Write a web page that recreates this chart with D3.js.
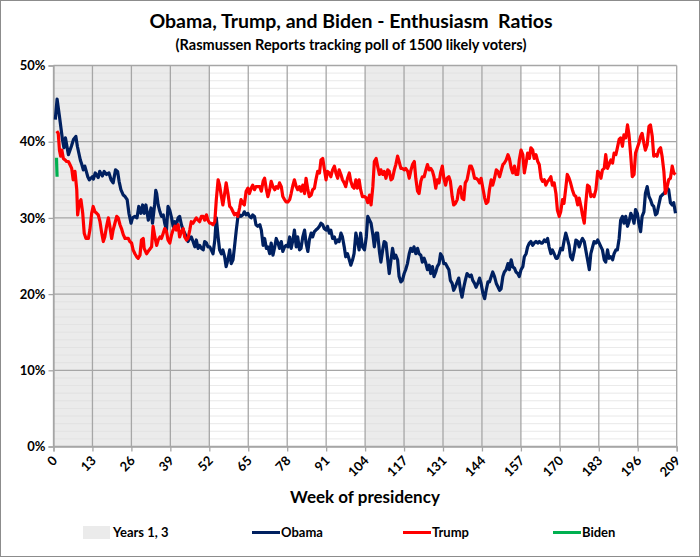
<!DOCTYPE html>
<html><head><meta charset="utf-8">
<script src="https://cdn.jsdelivr.net/npm/d3@7"></script>
<style>body{margin:0;background:#fff}svg{display:block}text{font-family:Lato,"Open Sans",sans-serif;font-weight:bold;fill:#000}</style>
</head><body><svg id="c" width="700" height="557"></svg>
<script>
const titleText = "Obama, Trump, and Biden - Enthusiasm  Ratios";
const subtitleText = "(Rasmussen Reports tracking poll of 1500 likely voters)";
const xTitle = "Week of presidency";
const weekTickLabels = ["0","13","26","39","52","65","78","91","104","117","131","144","157","170","183","196","209"];
const yTickValues = [0,10,20,30,40,50];
const shadedYears = [[0,52.25],[104.5,156.75]];
const seriesNames = ["Obama","Trump","Biden"];
const seriesColors = ["#002060","#ff0000","#00b050"];

const obamaData = [[0.6,42.9],[1.2,45.6],[2,43.3],[3,40.3],[3.5,39.2],[4,40.5],[5,38.3],[6,39.4],[6.7,40.3],[7.5,40.7],[8,39.4],[9,37.6],[9.5,37],[10,36.3],[10.5,36.8],[11,36.1],[11.5,35.4],[12,35],[13,35.4],[13.4,35.1],[14,35.9],[15,35.3],[15.5,36.1],[16.4,35.5],[17,36.1],[17.8,35.7],[18.6,35.9],[19.3,35],[20,34.6],[20.8,36.3],[21.5,36.1],[22,34.8],[22.6,33.7],[23.4,33],[24,32.8],[24.7,32.4],[25.3,30.6],[26,29.3],[26.5,30],[27.3,30.2],[28,30],[28.6,31.5],[29.3,30.6],[29.9,31.7],[30.4,30.6],[31,31.7],[31.8,29.7],[32.7,31.3],[33.2,29.3],[33.9,31.7],[34.3,33.6],
[34.6,33.2],[35.1,31.7],[35.7,30.8],[36.2,30.2],[36.8,30.4],[37.3,29.3],[37.9,28.4],[38.4,31.5],[39,31],[39.6,30],[40.1,28.9],[40.7,29.5],[41.2,29.1],[41.8,30],[42.3,30.2],[42.9,29.1],[43.5,28.4],[44,28],[44.6,27.5],[45.1,26.9],[45.7,27.3],[46.2,27.5],[46.8,26.9],[47.4,26.2],[47.9,27.1],[48.5,26],[49,26.4],[49.6,26],[50.2,25.8],[50.7,26.9],[51.3,26.7],[51.8,26.2],[52.4,26.2],[52.9,25.8],[53.5,25.3],[54.1,27.1],[54.6,30],[55.2,27.5],[55.7,25.8],[56.3,25.3],[56.8,25.8],[57.4,24.9],[57.9,23.6],[58.5,24.5],[59.1,25.8],[59.6,24],[60.2,24.5],[60.7,26.2],[61.3,28.4],[61.8,30],[62.4,30.4],[62.9,30.2],[63.5,30.4],[64,30.8],[64.6,30.4],[65.2,30.6],[65.7,30.2],[66.3,30],[66.8,30.4],[67.4,30.2],[67.9,29.1],[68.5,28.9],
[69.2,29.1],[69.7,28.4],[70.3,26.4],[70.8,27.3],[71.4,26],[71.9,26.2],[72.5,25.3],[73,26.7],[73.6,25.1],[74.2,26.2],[74.7,27.3],[75.3,26.7],[75.8,26],[76.4,26.9],[76.9,25.6],[77.5,26.2],[78,26.4],[78.6,26.2],[79.2,27.5],[79.7,26],[80.3,27.1],[80.8,28.4],[81.4,26.2],[81.9,27.5],[82.5,25.8],[83,26],[83.6,27.5],[84.2,28.4],[84.7,26.7],[85.3,25.6],[85.8,27.1],[86.4,28],[86.9,27.5],[87.5,28.2],[88,28.4],[88.6,28.6],[89.2,28.9],[89.7,29.3],[90.3,29.1],[90.8,28.6],[91.4,28.4],[91.9,28.9],[92.5,28],[93,28.4],[93.6,27.3],[94.2,27.5],[94.7,26.7],[95.3,27.1],[95.8,26.9],[96.4,28],[96.9,27.5],[97.5,26.2],[98,24.9],[98.6,25.3],[99.2,24.5],[99.7,23.8],[100.3,24.5],[100.8,25.3],[101.4,28],[101.9,27.1],[102.5,25.8],[103,28],[103.6,26.2],[104.3,25.8],
[104.9,27.5],[105.4,30.2],[106,29.7],[106.5,29.3],[107.1,27.8],[107.6,26.2],[108.2,28],[108.7,28],[109.3,25.6],[109.8,24.2],[110.4,25.8],[110.9,26.9],[111.5,26.7],[112.1,24.5],[112.6,22.7],[113.2,24.5],[113.7,26],[114.3,24.7],[114.8,25.1],[115.4,24.5],[115.9,22.3],[116.5,21.6],[117,21.8],[117.6,22.7],[118.1,23.2],[118.7,24],[119.3,25.3],[119.8,26],[120.4,25.6],[120.9,26.2],[121.5,25.3],[122.1,26],[122.6,25.3],[123.2,25.1],[123.7,24.2],[124.3,24.7],[124.9,24],[125.4,23.2],[126,23.8],[126.5,22.7],[127.1,23.6],[127.6,22.3],[128.2,22.9],[128.7,23.6],[129.3,24],[129.8,25.3],[130.4,24.9],[130.9,24],[131.5,24],[132,23.6],[132.6,23.2],[133.1,21.8],[133.7,21.4],[134.2,20.5],[134.8,21],[135.4,21.6],[135.9,22.1],[136.5,20.5],[137,19.6],[137.6,20.9],[138.1,21.8],[138.7,22.7],[139.6,22.3],
[140.1,22.5],[140.6,21.8],[141.2,21.4],[141.7,20.9],[142.3,21.4],[142.9,22.1],[143.4,21.4],[144,20.1],[144.6,19.4],[145.1,20.5],[145.7,21.6],[146.2,21.6],[146.8,22.3],[147.3,22.9],[147.9,22.3],[148.5,21.4],[149,21],[149.6,20.5],[150.1,20.7],[150.7,22.3],[151.2,22.9],[151.8,23.2],[152.4,24],[152.9,23.2],[153.5,24.5],[154,23.6],[154.6,23.4],[155.1,22.9],[155.7,22.7],[156.2,22.3],[156.8,23.2],[157.4,23.6],[157.9,24.9],[158.5,25.3],[159,26.2],[159.6,26.7],[160.1,26.9],[160.7,26.4],[161.2,26.7],[161.8,26.9],[162.4,26.7],[162.9,26.9],[163.5,26.7],[164,26.7],[164.6,27.1],[165.1,26.9],[165.7,27.3],[166.2,26.2],[166.8,25.3],[167.3,25.8],[167.9,25.3],[168.5,24.7],[169,24.7],[169.6,25.3],[170.1,26],[170.7,25.8],[171.2,26.9],[171.8,28],[172.3,27.3],[172.9,26.4],[173.4,24.9],[174,24.5],[174.6,25.6],
[175.2,27.1],[175.8,26.9],[176.3,26.2],[176.9,26.9],[177.4,27.3],[178,26.9],[178.5,25.8],[179.1,24.5],[179.7,23.2],[180.2,25.3],[180.8,26.2],[181.3,26.9],[181.9,26.7],[182.5,27.1],[183,26.7],[183.6,26.2],[184.1,25.8],[184.7,24.5],[185.2,24.2],[185.8,25.8],[186.3,24.7],[186.9,24.9],[187.5,24.5],[188,25.3],[188.6,25.8],[189.1,25.8],[189.7,27.3],[190.2,29.7],[190.8,30.2],[191.3,29.3],[191.9,30.2],[192.5,28.9],[193,29.5],[193.6,30.6],[194.1,30.2],[194.7,29.3],[195.2,31.1],[195.8,30.6],[196.3,29.3],[196.9,28.2],[197.4,30.2],[198,30.8],[198.5,33.2],[199.1,34.1],[199.7,32.8],[200.2,32.4],[200.8,31.7],[201.3,31.5],[201.9,30.4],[202.4,30.6],[203,31.7],[203.6,32.8],[204.1,33],[204.7,33.2],[205.2,33.5],[205.8,33.9],[206.3,33.7],[206.9,32],[207.5,31.7],[208,32],[208.6,30.6]];

const trumpData = [[1.1,41.4],[1.6,41.1],[2,38.9],[2.4,38.1],[2.8,38.9],[3.3,37.8],[3.9,37.6],[4.4,37.4],[5,37.4],[5.5,37],[6.1,36.5],[6.6,35],[7.2,36.1],[7.8,33.7],[8.1,30.4],[8.6,31.9],[9.2,32.4],[9.8,30.6],[10.3,28],[10.9,27.3],[11.7,27.3],[12.2,28.4],[12.8,30.6],[13.3,31.5],[13.9,30.8],[14.5,30.6],[15,30.4],[15.6,29.5],[16.1,28.2],[16.7,26.9],[17.2,27.5],[17.8,28.9],[18.4,30],[18.9,28.9],[19.5,27.3],[20,28.4],[20.6,29.3],[21.2,30.2],[21.7,30],[22.3,29.1],[22.8,28.6],[23.4,27.8],[24,27.3],[24.5,27.3],[25.1,27.3],[25.6,26.9],[26.2,26.7],[26.7,25.8],[27.3,25.3],[27.9,24.9],[28.4,24.7],[29,25.1],[29.5,27.1],[30.1,27.3],[30.4,26],[31.2,25.3],[32.1,25.8],[32.9,26.2],[33.4,28.9],
[34,27.5],[34.6,26.4],[35.1,27.1],[35.7,27.5],[36.2,27.3],[36.8,28],[37.3,28.6],[37.9,28.2],[38.4,27.1],[39,26.7],[39.6,27.8],[40.1,28.4],[40.7,28.9],[41.2,28.4],[41.8,29.1],[42.3,27.5],[42.9,28.2],[43.5,28.6],[44,27.5],[44.6,27.1],[45.1,27.3],[45.7,28.4],[46.2,29.5],[46.8,29.3],[47.4,29.7],[47.9,30],[48.5,29.7],[49,29.5],[49.6,30.2],[50.2,30.2],[50.7,29.7],[51.3,30.4],[51.8,29.7],[52.4,29.3],[52.9,29.3],[53.5,29.1],[54.1,29.5],[54.6,32.4],[55.2,35],[55.7,34.3],[56.3,32.8],[56.8,31.7],[57.4,33.2],[57.9,34.6],[58.5,33.2],[59.1,31.5],[59.6,31.3],[60.2,30.8],[60.7,30.4],[61.3,30.6],[61.8,30.2],[62.4,31.3],[62.9,32.4],[63.5,31.9],[64,31.7],[64.6,33.5],[65.2,33.9],[65.7,33.2],[66.3,33.9],[66.8,34.3],[67.4,33.7],[67.9,34.1],[68.5,34.1],
[69.2,34.1],[69.7,33.5],[70.3,34.8],[70.8,35.2],[71.4,33.7],[71.9,32.8],[72.5,33.7],[73,34.8],[73.6,34.1],[74.2,33.7],[74.7,34.1],[75.3,33.9],[75.8,34.6],[76.4,34.1],[76.9,32.8],[77.5,32.4],[78,32.1],[78.6,32.1],[79.2,32.4],[79.7,33.2],[80.3,34.3],[80.8,35],[81.4,34.1],[81.9,33.7],[82.5,34.1],[83,33.5],[83.6,34.3],[84.2,33.2],[84.7,35.2],[85.3,33.7],[85.8,32.8],[86.4,33],[86.9,33.7],[87.5,33.9],[88,35],[88.6,36.1],[89.2,35.9],[89.7,37.6],[90.3,37.8],[90.8,36.5],[91.4,35],[91.9,36.1],[92.5,35.9],[93,35.4],[93.6,36.3],[94.2,36.8],[94.7,35.9],[95.3,35.2],[95.8,36.3],[96.4,35.7],[96.9,35],[97.5,34.6],[98,34.1],[98.6,35.2],[99.2,35.9],[99.7,34.8],[100.3,34.1],[100.8,33.9],[101.4,35],[101.9,33.9],[102.5,35],[103,33.7],[103.6,32.8],[104.3,32.8],
[104.9,32.6],[105.4,32],[106,33],[106.5,31.7],[107.1,34.1],[107.6,37.4],[108.2,37.8],[108.7,36.8],[109.3,35.7],[109.8,36.3],[110.4,35.7],[110.9,36.1],[111.5,35.2],[112.1,36.3],[112.6,36.1],[113.2,35],[113.7,35.2],[114.3,36.3],[114.8,37],[115.4,38.1],[115.9,37.4],[116.5,36.5],[117,36.5],[117.6,36.3],[118.1,36.5],[118.8,36.1],[119.3,35.2],[119.9,36.3],[120.4,37],[121,37.4],[121.5,35.2],[122.1,33.5],[122.6,33.2],[123.2,34.8],[123.7,35.4],[124.3,35.4],[124.9,36.3],[125.4,37],[126,36.3],[126.5,36.5],[127.1,36.1],[127.6,35.4],[128.2,33.9],[128.7,35],[129.3,34.6],[129.8,35.9],[130.4,36.8],[130.9,35.2],[131.5,34.3],[132,35.2],[132.6,35.4],[133.1,34.8],[133.7,32.8],[134.2,31.7],[134.8,31.9],[135.4,32.4],[135.9,33.7],[136.5,34.1],[137,32.6],[137.6,32.4],[138.1,34.6],[138.7,35],[139.6,36.8],
[140.1,36.8],[140.6,36.3],[141.2,35.2],[141.7,35.2],[142.3,35],[142.9,34.6],[143.4,35.2],[144,33.9],[144.6,32.6],[145.1,31.9],[145.7,32.1],[146.2,33.7],[146.8,35],[147.3,34.3],[147.9,35.2],[148.5,36.3],[149,36.1],[149.6,35.4],[150.1,36.1],[150.7,37],[151.2,37.2],[151.8,37.6],[152.4,38.3],[152.9,37.8],[153.5,36.5],[154,35.9],[154.6,36.8],[155.1,35.7],[155.7,35.7],[156.2,37.6],[156.8,38.9],[157.4,38.3],[157.9,35.9],[158.5,37.2],[159,38.5],[159.6,37.8],[160.1,39.2],[160.7,38.9],[161.2,37.8],[161.8,38.3],[162.4,37.4],[162.9,37],[163.5,35.2],[164,34.8],[164.6,35],[165.1,34.3],[165.7,34.8],[166.2,35],[166.8,35.4],[167.3,34.3],[167.9,34.6],[168.5,33.2],[169,31],[169.6,30.2],[170.1,30.8],[170.7,32.4],[171.2,31.9],[171.8,33.9],[172.3,35.7],[172.9,35.2],[173.4,34.6],[174,33.7],[174.6,33],
[175.2,32.8],[175.8,31.7],[176.3,32.6],[176.9,31.5],[177.4,30.4],[178,29.3],[178.5,31.9],[179.1,34.3],[179.7,34.1],[180.2,32.8],[180.8,33],[181.3,32.8],[181.9,33.7],[182.5,36.1],[183,35.9],[183.6,35.2],[184.1,36.3],[184.7,36.5],[185.2,38.3],[185.8,36.5],[186.3,37],[186.9,37.6],[187.5,37.2],[188,38.5],[188.6,38.3],[189.1,39.2],[189.7,40.3],[190.2,40.5],[190.8,39.4],[191.3,40.9],[191.9,40.5],[192.5,42.2],[193,40.9],[193.6,38.1],[194.1,35.4],[194.7,35.7],[195.2,38.5],[195.8,39.2],[196.3,39.8],[196.9,40.7],[197.4,41.1],[198,39.8],[198.5,38.9],[199.1,39.6],[199.7,42],[200.2,42.2],[200.8,40.7],[201.3,38.1],[201.9,38.3],[202.4,38.1],[203,38.9],[203.6,39.2],[204.1,38.1],[204.7,36.1],[205.2,33.2],[205.8,34.1],[206.3,35],[206.9,35.2],[207.5,36.8],[208,35.9],[208.6,35.7]];

const bidenData = [[1.0,37.9],[1.1,36.6],[1.2,35.4]];

const svg = d3.select("#c");
const W = 700, H = 557;
const L = 53.5, R = 676.7, T = 65.5, B = 446.5;

svg.append("rect").attr("x",0.5).attr("y",0.5).attr("width",W-1).attr("height",H-1)
  .attr("fill","#fff").attr("stroke","#8c8c8c").attr("stroke-width",1);

const x = d3.scaleLinear().domain([0,209]).range([L,R]);
const y = d3.scaleLinear().domain([0,50]).range([B,T]);

svg.append("g").selectAll("rect").data(shadedYears).join("rect")
  .attr("x",d=>x(d[0])).attr("width",d=>x(d[1])-x(d[0]))
  .attr("y",T).attr("height",B-T).attr("fill","#ebebeb");

const minor = d3.range(1,50).filter(v=>v%10!==0);
svg.append("g").selectAll("line").data(minor).join("line")
  .attr("x1",L).attr("x2",R).attr("y1",d=>y(d)).attr("y2",d=>y(d))
  .attr("stroke","#dedede").attr("stroke-width",0.8).attr("opacity",0.8);

svg.append("g").selectAll("line").data(yTickValues).join("line")
  .attr("x1",L).attr("x2",R).attr("y1",d=>y(d)).attr("y2",d=>y(d))
  .attr("stroke","#a6a6a6").attr("stroke-width",1.3);

const tickPos = weekTickLabels.map((l,i)=>i*209/16);
svg.append("g").selectAll("line").data(tickPos).join("line")
  .attr("x1",d=>x(d)).attr("x2",d=>x(d)).attr("y1",T).attr("y2",B)
  .attr("stroke","#a6a6a6").attr("stroke-width",1.3);

const xAxis = d3.axisBottom(x).tickValues(tickPos).tickSize(5).tickFormat((d,i)=>weekTickLabels[i]);
const gx = svg.append("g").attr("transform",`translate(0,${B})`).call(xAxis);
gx.select(".domain").attr("stroke","#a6a6a6").attr("stroke-width",1.3);
gx.selectAll(".tick line").attr("stroke","#a6a6a6").attr("stroke-width",1.3);
gx.selectAll(".tick text").attr("font-size",13).attr("font-weight","bold")
  .attr("font-family","Lato, sans-serif").attr("fill","#000")
  .attr("text-anchor","end").attr("dy",null).attr("y",0)
  .attr("transform","translate(4,15) rotate(-45)");

const yAxis = d3.axisLeft(y).tickValues(yTickValues).tickSize(5).tickFormat(d=>d+"%");
const gy = svg.append("g").attr("transform",`translate(${L},0)`).call(yAxis);
gy.select(".domain").attr("stroke","#a6a6a6").attr("stroke-width",1.3);
gy.selectAll(".tick line").attr("stroke","#a6a6a6").attr("stroke-width",1.3);
gy.selectAll(".tick text").attr("font-size",13).attr("font-weight","bold")
  .attr("font-family","Lato, sans-serif").attr("fill","#000").attr("x",-8);

const line = d3.line().x(d=>x(d[0])).y(d=>y(d[1])).curve(d3.curveLinear);
[obamaData, trumpData, bidenData].forEach((data,i)=>{
  svg.append("path").datum(data).attr("d",line).attr("fill","none")
    .attr("stroke",seriesColors[i]).attr("stroke-width",3.2)
    .attr("stroke-linejoin","round").attr("stroke-linecap","butt");
});

svg.append("text").attr("x",351).attr("y",28).attr("text-anchor","middle")
  .attr("font-size",19.5).style("white-space","pre").text(titleText);
svg.append("text").attr("x",351).attr("y",50).attr("text-anchor","middle")
  .attr("font-size",14.5).text(subtitleText);
svg.append("text").attr("x",365).attr("y",503).attr("text-anchor","middle")
  .attr("font-size",17).text(xTitle);

const lg = svg.append("g");
lg.append("rect").attr("x",83).attr("y",526).attr("width",27).attr("height",13).attr("fill","#ebebeb");
lg.append("text").attr("x",113).attr("y",537).attr("font-size",13).text("Years 1, 3");
const legX = [252,403,553];
seriesNames.forEach((n,i)=>{
  lg.append("line").attr("x1",legX[i]).attr("x2",legX[i]+28).attr("y1",532.5).attr("y2",532.5)
    .attr("stroke",seriesColors[i]).attr("stroke-width",3);
  lg.append("text").attr("x",legX[i]+29).attr("y",537).attr("font-size",13).text(n);
});
</script></body></html>
